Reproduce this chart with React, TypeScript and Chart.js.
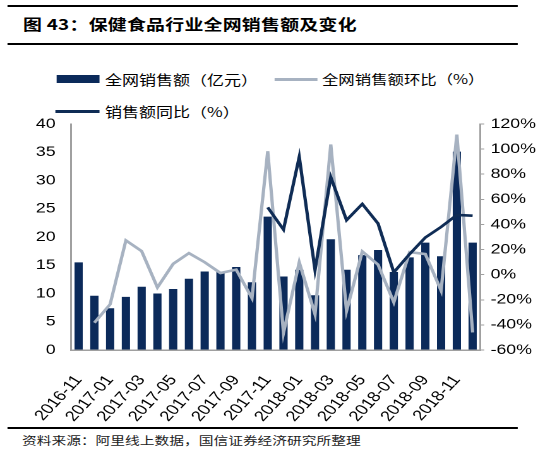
import { useEffect, useRef } from 'react'
import Chart from 'chart.js/auto'

// months on the x axis
const months = [
  '2016-11', '2016-12', '2017-01', '2017-02', '2017-03', '2017-04', '2017-05',
  '2017-06', '2017-07', '2017-08', '2017-09', '2017-10', '2017-11', '2017-12',
  '2018-01', '2018-02', '2018-03', '2018-04', '2018-05', '2018-06', '2018-07',
  '2018-08', '2018-09', '2018-10', '2018-11', '2018-12',
]

// 全网销售额（亿元）
const sales = [
  15.5, 9.6, 7.4, 9.4, 11.2, 10.0, 10.8, 12.6, 13.9, 13.8, 14.7, 12.0, 23.6,
  13.0, 14.2, 9.7, 19.6, 14.2, 16.8, 17.7, 13.8, 16.4, 19.0, 16.6, 35.1, 19.0,
]

// 全网销售额环比（%）
const momPct = [
  null, -38.3, -23.6, 27.3, 18.7, -10.2, 8.6, 17.1, 9.9, 1.3, 4.0, -18.7, 98.3,
  -46.4, 9.9, -31.6, 103.7, -28.9, 18.5, 8.0, -22.0, 18.0, 16.4, -12.7, 111.6, -46.0,
]

// 销售额同比（%）
const yoyPct = [
  null, null, null, null, null, null, null, null, null, null, null, null, 53.6,
  35.9, 93.8, 3.8, 77.7, 43.4, 56.3, 40.7, 1.8, 16.4, 29.6, 38.0, 47.6, 47.0,
]

const NAVY = '#0b2a5a'
const GRAY = '#a7b2c1'
const DARK = '#0f2c55'
const AXIS = '#a0a0a0'
const cjk = '"Noto Sans CJK SC", "Noto Sans", sans-serif'

// the reference picture is a bit wider than tall, so the whole page is drawn
// narrow and stretched sideways
const SX = 1.26
const W = 545 / SX

export default function App() {
  const canvasRef = useRef<HTMLCanvasElement>(null)

  useEffect(() => {
    if (!canvasRef.current) return
    const tickFont = { family: '"Liberation Sans", Arial, sans-serif', size: 14 }
    const noTopPad = (s: any) => { s.paddingTop = 8; s.paddingBottom = 0 }

    const chart = new Chart(canvasRef.current, {
      type: 'bar',
      data: {
        labels: months,
        datasets: [
          {
            type: 'bar',
            label: '全网销售额（亿元）',
            data: sales,
            backgroundColor: NAVY,
            yAxisID: 'y',
            barPercentage: 0.55,
            categoryPercentage: 0.95,
            order: 3,
          },
          {
            type: 'line',
            label: '全网销售额环比（%）',
            data: momPct,
            borderColor: GRAY,
            borderWidth: 2.6,
            pointRadius: 0,
            tension: 0,
            yAxisID: 'y1',
            order: 2,
          },
          {
            type: 'line',
            label: '销售额同比（%）',
            data: yoyPct,
            borderColor: DARK,
            borderWidth: 2.6,
            pointRadius: 0,
            tension: 0,
            yAxisID: 'y1',
            order: 1,
          },
        ],
      },
      options: {
        animation: false,
        responsive: false,
        devicePixelRatio: 2,
        layout: { padding: 0 },
        plugins: {
          legend: { display: false },
          tooltip: { enabled: false },
        },
        scales: {
          x: {
            grid: { drawOnChartArea: false, drawTicks: false },
            border: { color: AXIS, width: 1.5 },
            ticks: {
              autoSkip: false,
              maxRotation: 53,
              minRotation: 53,
              padding: 22,
              labelOffset: 0,
              color: '#000',
              font: { ...tickFont, size: 14.5 },
              callback: (_v: any, i: number) => (i % 2 === 0 ? months[i] : ''),
            },
            afterFit: (s: any) => { s.height = 76 },
          },
          y: {
            position: 'left',
            min: 0,
            max: 40,
            ticks: { stepSize: 5, padding: 12, color: '#000', font: tickFont },
            grid: { drawOnChartArea: false, drawTicks: false },
            border: { color: AXIS, width: 1.5 },
            afterFit: (s: any) => { s.width = 56; noTopPad(s) },
          },
          y1: {
            position: 'right',
            min: -60,
            max: 120,
            ticks: {
              stepSize: 20,
              padding: 5,
              color: '#000',
              font: tickFont,
              callback: (v: any) => v + '%',
            },
            grid: { drawOnChartArea: false, drawTicks: true, tickLength: 3, color: AXIS },
            border: { color: AXIS, width: 1.5 },
            afterFit: (s: any) => { s.width = W - 381; noTopPad(s) },
          },
        },
      },
    })

    return () => chart.destroy()
  }, [])

  const rule = (top: number, h: number) => (
    <div style={{ position: 'absolute', left: 8 / SX, top, width: 510 / SX, height: h, background: '#000' }} />
  )
  const abs = (left: number, top: number) => ({ position: 'absolute' as const, left: left / SX, top })

  return (
    <div
      style={{
        position: 'fixed', left: 0, top: 0, width: W, height: 456, background: '#fff',
        overflow: 'hidden', transform: `scaleX(${SX})`, transformOrigin: '0 0',
      }}
    >
      {rule(4.5, 2)}
      <div style={{ ...abs(23, 14), fontFamily: cjk, fontWeight: 700, fontSize: 15, lineHeight: '20px', letterSpacing: 0.2, color: '#000', whiteSpace: 'nowrap' }}>
        图 43：保健食品行业全网销售额及变化
      </div>
      {rule(42.5, 2.5)}

      {/* legend */}
      <div style={{ ...abs(57, 75), width: 43 / SX, height: 8, background: NAVY }} />
      <div style={{ ...abs(105, 70), fontFamily: cjk, fontSize: 13.5, lineHeight: '18px', whiteSpace: 'nowrap' }}>
        全网销售额（亿元）
      </div>
      <div style={{ ...abs(275, 77.5), width: 43 / SX, height: 3, background: GRAY }} />
      <div style={{ ...abs(322, 70), fontFamily: cjk, fontSize: 13, lineHeight: '18px', whiteSpace: 'nowrap' }}>
        全网销售额环比（%）
      </div>
      <div style={{ ...abs(55, 110), width: 45 / SX, height: 2.5, background: DARK }} />
      <div style={{ ...abs(105, 102), fontFamily: cjk, fontSize: 13.5, lineHeight: '18px', whiteSpace: 'nowrap' }}>
        销售额同比（%）
      </div>

      <canvas ref={canvasRef} width={W} height={310} style={{ position: 'absolute', left: 0, top: 116, width: W, height: 310 }} />

      {rule(427, 2)}
      <div style={{ ...abs(22, 432), fontFamily: cjk, fontSize: 11.7, lineHeight: '16px', color: '#222', whiteSpace: 'nowrap' }}>
        资料来源：阿里线上数据，国信证券经济研究所整理
      </div>
    </div>
  )
}
